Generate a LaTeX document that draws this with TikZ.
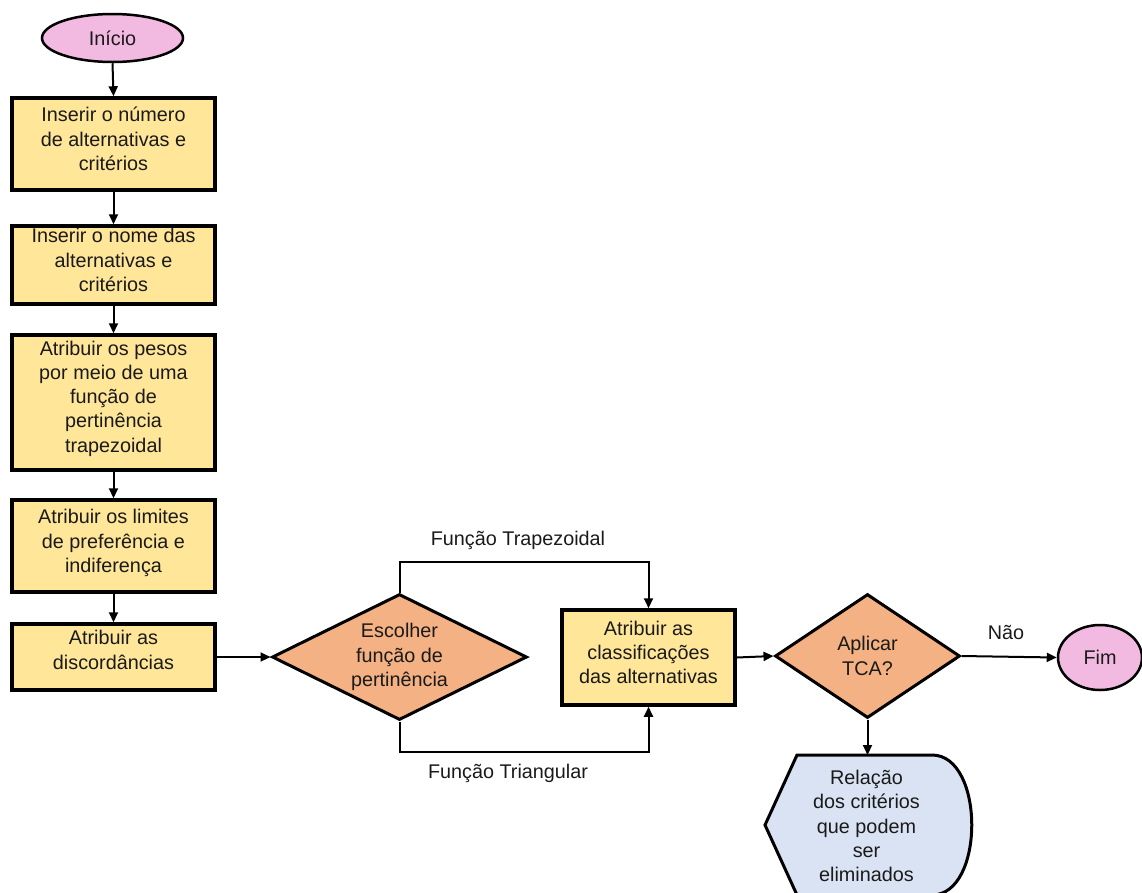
\documentclass[tikz,border=0pt]{standalone}
\usepackage{fontspec}
\setmainfont{Liberation Sans}
\usetikzlibrary{shapes.geometric,arrows.meta}
\definecolor{boxy}{HTML}{FFE699}
\definecolor{pinkc}{HTML}{F2BAE0}
\definecolor{orangec}{HTML}{F4B183}
\definecolor{bluec}{HTML}{DAE3F3}
\definecolor{txtc}{HTML}{1A1A1A}
\tikzset{
  every node/.style={font=\fontsize{19.8}{24.3}\selectfont, text=txtc},
  procbox/.style={draw=black, line width=3.5pt, fill=boxy, minimum width=203pt, inner sep=0pt},
  term/.style={draw=black, line width=2.5pt, fill=pinkc, ellipse, inner sep=0pt},
  dia/.style={draw=black, line width=3pt, fill=orangec, diamond, inner sep=0pt},
  lbl/.style={align=center, inner sep=0pt},
  boxtxt/.style={align=center, inner sep=0pt, yshift=5pt},
  conn/.style={line width=2pt, -{Triangle[length=10pt,width=9pt]}}
}
\begin{document}
\begin{tikzpicture}[x=1pt,y=-1pt]
\useasboundingbox (0,0) rectangle (1142,892);
% terminals
\node[term, minimum width=141pt, minimum height=48pt] (ini) at (112.5,38) {Início};
% process boxes
\node[procbox, minimum height=92pt] (b1) at (113.5,144) {};
\node[boxtxt] (b1t) at (b1) {Inserir o número\\de alternativas e\\critérios};
\node[procbox, minimum height=78pt] (b2) at (113.5,265) {};
\node[boxtxt] (b2t) at (b2) {Inserir o nome das\\alternativas e\\critérios};
\node[procbox, minimum height=135pt] (b3) at (113.5,402.5) {};
\node[boxtxt, yshift=-1pt] (b3t) at (b3) {Atribuir os pesos\\por meio de uma\\função de\\pertinência\\trapezoidal};
\node[procbox, minimum height=92pt] (b4) at (113.5,546) {};
\node[boxtxt, yshift=-2pt] (b4t) at (b4) {Atribuir os limites\\de preferência e\\indiferença};
\node[procbox, minimum height=66pt] (b5) at (113.5,657) {};
\node[boxtxt, yshift=2pt] (b5t) at (b5) {Atribuir as\\discordâncias};
% decision 1
\node[dia, minimum width=255pt, minimum height=126pt] (d1) at (399.5,657) {};
\node[lbl] (d1t) at (d1) {Escolher\\função de\\pertinência};
% box 6
\node[procbox, minimum width=173pt, minimum height=95pt] (b6) at (648.5,657.5) {};
\node[boxtxt] (b6t) at (b6) {Atribuir as\\classificações\\das alternativas};
% decision 2
\node[dia, minimum width=185pt, minimum height=124pt] (d2) at (867.5,656) {};
\node[lbl] (d2t) at (d2) {Aplicar\\TCA?};
% fim
\node[term, minimum width=84pt, minimum height=65pt] (fim) at (1100,657.5) {Fim};
% display shape
\draw[line width=3pt, fill=bluec] (765,825) -- (797,755) -- (932,755) .. controls (985,755) and (985,895) .. (932,895) -- (797,895) -- cycle;
\node[lbl] (disp) at (866.5,826) {Relação\\dos critérios\\que podem\\ser\\eliminados};
\coordinate (disptop) at (867.5,755);
% vertical chain
\draw[conn] (ini.south) -- (b1.north);
\draw[conn] (b1.south) -- (b2.north);
\draw[conn] (b2.south) -- (b3.north);
\draw[conn] (b3.south) -- (b4.north);
\draw[conn] (b4.south) -- (b5.north);
% horizontal
\draw[conn] (b5.east) -- (d1.west);
\draw[conn] (d1.north) -- ++(0,-31) -| (b6.north);
\draw[conn] (d1.south) -- ++(0,30) -| (b6.south);
\node[lbl] (ltrap) at (518,540) {Função Trapezoidal};
\node[lbl] (ltri) at (508,773) {Função Triangular};
\draw[conn] (b6.east) -- (d2.west);
\draw[conn] (d2.east) -- (fim.west);
\node[lbl] (lnao) at (1006,632) {Não};
\draw[conn] (d2.south) -- (disptop);
\end{tikzpicture}
\end{document}
